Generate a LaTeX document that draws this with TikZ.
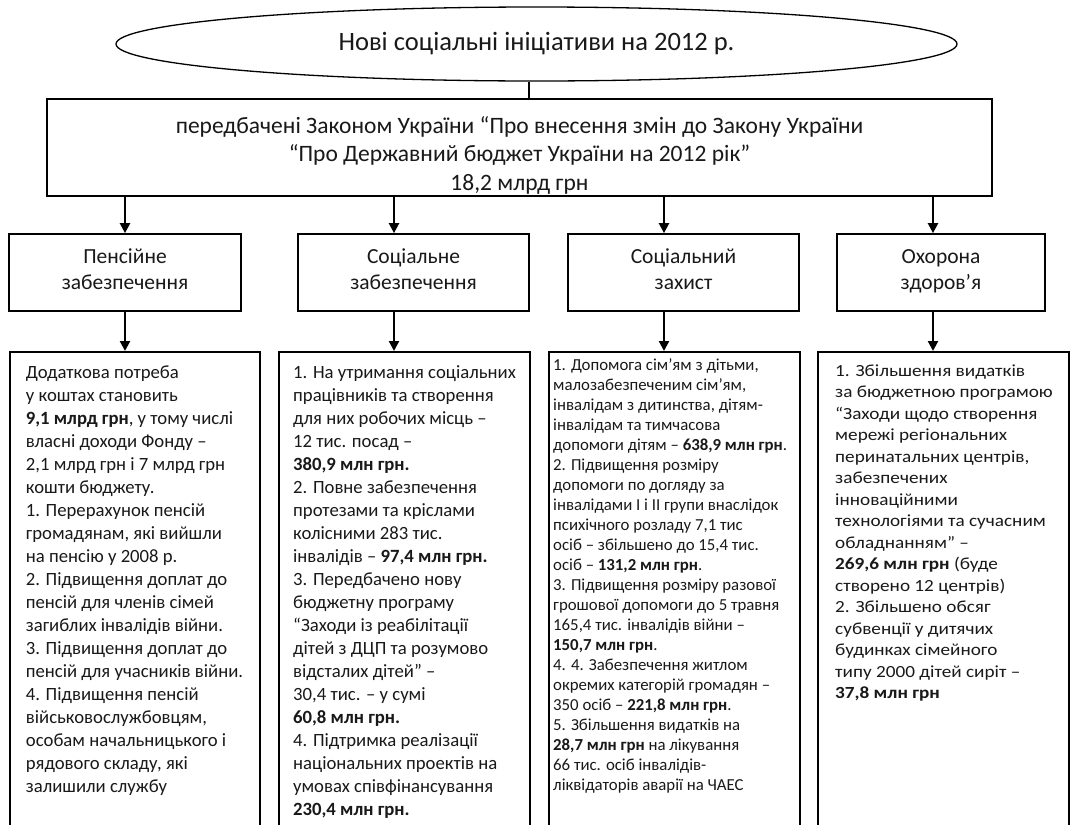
\documentclass[tikz,border=0pt]{standalone}
\usepackage{fontspec}
\setmainfont{Carlito}
\newfontfamily\stretchfont[FakeStretch=1.13]{Carlito}
\usetikzlibrary{shapes.geometric,arrows.meta}
\begin{document}
\begin{tikzpicture}[x=1pt,y=-1pt,
  box/.style={draw=black,line width=1.7pt,inner sep=0pt},
  arr/.style={line width=2.2pt,-{Triangle[width=10pt,length=10pt]}},
  catbox/.style={box,minimum height=77pt},
  catlbl/.style={align=center,inner sep=0pt,text=black!90,font=\fontsize{21.5}{26}\selectfont},
  detbox/.style={box,anchor=north west,minimum width=251pt,minimum height=520pt},
  dtext/.style={anchor=north west,align=left,inner sep=0pt,text=black!90,font=\fontsize{18.7}{23}\selectfont},
  dtextsmall/.style={anchor=north west,align=left,inner sep=0pt,text=black!90,font=\fontsize{16.8}{20}\selectfont},
  dtextwide/.style={anchor=north west,align=left,inner sep=0pt,text=black!90,font=\stretchfont\fontsize{17}{21.5}\selectfont}]
\useasboundingbox (0,0) rectangle (1072,825);
\clip (0,0) rectangle (1072,825);
\fill[white] (0,0) rectangle (1072,825);
\node[ellipse,draw,line width=1.3pt,minimum width=841pt,minimum height=74pt,inner sep=0pt,text=black!90,font=\fontsize{26.5}{30}\selectfont] (ell) at (536.5,44) {Нові соціальні ініціативи на 2012 р.};
\node[box,minimum width=945pt,minimum height=97pt] (main) at (519.5,147.5) {};
\node[align=center,inner sep=0pt,text=black!90,font=\fontsize{23.5}{28.5}\selectfont] (mainlbl) at (519.5,156) {\strut передбачені Законом України “Про внесення змін до Закону України\\ “Про Державний бюджет України на 2012 рік”\\ 18,2 млрд грн\strut};
\coordinate (x0) at (529,0);
\draw[line width=1.3pt] (ell.south -| x0) -- (main.north -| x0);
\node[catbox,minimum width=232pt] (c1) at (125,272.5) {};
\node[catbox,minimum width=231pt] (c2) at (413.5,272.5) {};
\node[catbox,minimum width=231pt] (c3) at (683.5,272.5) {};
\node[catbox,minimum width=208pt] (c4) at (941,272.5) {};
\node[catlbl] (l1) at ([yshift=1.3pt]c1.center) {\strut Пенсійне\\забезпечення\strut};
\node[catlbl] (l2) at ([yshift=1.3pt]c2.center) {\strut Соціальне\\забезпечення\strut};
\node[catlbl] (l3) at ([yshift=1.3pt]c3.center) {\strut Соціальний\\захист\strut};
\node[catlbl] (l4) at ([yshift=1.3pt]c4.center) {\strut Охорона\\здоров’я\strut};
\node[detbox,minimum width=250pt] (d1) at (9,351) {};
\node[detbox] (d2) at (278,351) {};
\node[detbox] (d3) at (548,351) {};
\node[detbox] (d4) at (817,351) {};
\coordinate (x1) at (125,0);
\coordinate (x2) at (394,0);
\coordinate (x3) at (664,0);
\coordinate (x4) at (933,0);
\foreach \i in {1,2,3,4}{
  \draw[arr] (main.south -| x\i) -- (c\i.north -| x\i);
  \draw[arr] (c\i.south -| x\i) -- (d\i.north -| x\i);
}
\node[dtext] (t1) at ([shift={(16.7,11.4)}]d1.north west) {\strut Додаткова потреба\\
у коштах становить\\
\textbf{9,1 млрд грн}, у тому числі\\
власні доходи Фонду –\\
2,1 млрд грн і 7 млрд грн\\
кошти бюджету.\\
1. Перерахунок пенсій\\
громадянам, які вийшли\\
на пенсію у 2008 р.\\
2. Підвищення доплат до\\
пенсій для членів сімей\\
загиблих інвалідів війни.\\
3. Підвищення доплат до\\
пенсій для учасників війни.\\
4. Підвищення пенсій\\
військовослужбовцям,\\
особам начальницького і\\
рядового складу, які\\
залишили службу};
\node[dtext] (t2) at ([shift={(15,11.4)}]d2.north west) {\strut 1. На утримання соціальних\\
працівників та створення\\
для них робочих місць –\\
12 тис. посад –\\
\textbf{380,9 млн грн.}\\
2. Повне забезпечення\\
протезами та кріслами\\
колісними 283 тис.\\
інвалідів – \textbf{97,4 млн грн.}\\
3. Передбачено нову\\
бюджетну програму\\
“Заходи із реабілітації\\
дітей з ДЦП та розумово\\
відсталих дітей” –\\
30,4 тис. – у сумі\\
\textbf{60,8 млн грн.}\\
4. Підтримка реалізації\\
національних проектів на\\
умовах співфінансування\\
\textbf{230,4 млн грн.}};
\node[dtextsmall] (t3) at ([shift={(5,5)}]d3.north west) {\strut 1. Допомога сім'ям з дітьми,\\
малозабезпеченим сім’ям,\\
інвалідам з дитинства, дітям-\\
інвалідам та тимчасова\\
допомоги дітям – \textbf{638,9 млн грн}.\\
2. Підвищення розміру\\
допомоги по догляду за\\
інвалідами I і II групи внаслідок\\
психічного розладу 7,1 тис\\
осіб – збільшено до 15,4 тис.\\
осіб – \textbf{131,2 млн грн}.\\
3. Підвищення розміру разової\\
грошової допомоги до 5 травня\\
165,4 тис. інвалідів війни –\\
\textbf{150,7 млн грн}.\\
4. 4. Забезпечення житлом\\
окремих категорій громадян –\\
350 осіб – \textbf{221,8 млн грн}.\\
5. Збільшення видатків на\\
\textbf{28,7 млн грн} на лікування\\
66 тис. осіб інвалідів-\\
ліквідаторів аварії на ЧАЕС};
\node[dtextwide] (t4) at ([shift={(18,10)}]d4.north west) {\strut 1. Збільшення видатків\\
за бюджетною програмою\\
“Заходи щодо створення\\
мережі регіональних\\
перинатальних центрів,\\
забезпечених\\
інноваційними\\
технологіями та сучасним\\
обладнанням” –\\
\textbf{269,6 млн грн} (буде\\
створено 12 центрів)\\
2. Збільшено обсяг\\
субвенції у дитячих\\
будинках сімейного\\
типу 2000 дітей сиріт –\\
\textbf{37,8 млн грн}};
\end{tikzpicture}
\end{document}
